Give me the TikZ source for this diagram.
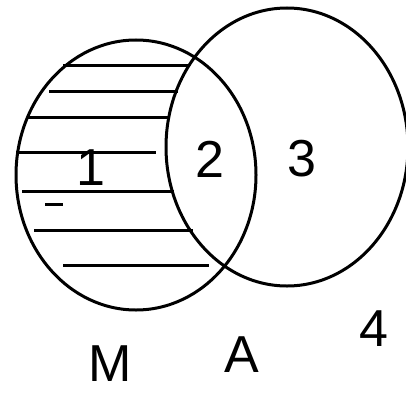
\documentclass[tikz,border=0pt]{standalone}
\usepackage{fontspec}
\setmainfont{Liberation Sans}
\usetikzlibrary{positioning}

\begin{document}
\begin{tikzpicture}[
  x=1pt, y=-1pt,
  setline/.style={draw=black, line width=3pt},
  hatchline/.style={draw=black, line width=3.5pt},
  lbl/.style={inner sep=0pt, font=\fontsize{52}{52}\selectfont}
]
  \useasboundingbox (0,0) rectangle (406,396);
  % the two sets
  \coordinate (cM) at (136,175);
  \coordinate (cA) at (287,147);
  \draw[setline] (cM) ellipse [x radius=120pt, y radius=135pt];
  \draw[setline] (cA) ellipse [x radius=121pt, y radius=139pt];
  % hatching of region 1
  \foreach \ya/\xa/\xb in {65.7/63/190, 91.7/49/178, 117.7/27/170, 152.7/16/156,
                           191.7/22/174, 230.7/34/193, 265.7/63/209}
    \draw[hatchline] (\xa,\ya) -- (\xb,\ya);
  \draw[hatchline] (45,204.7) -- (63,204.7);
  % region and set labels
  \node[lbl] (n1) at (91,168) {1};
  \node[lbl] (n2) at (210,159) {2};
  \node[lbl] (n3) at (302,159) {3};
  \node[lbl] (n4) at (374,329) {4};
  \node[lbl] (nA) at (242,355) {A};
  \node[lbl] (nM) at (110,364) {M};
\end{tikzpicture}
\end{document}
